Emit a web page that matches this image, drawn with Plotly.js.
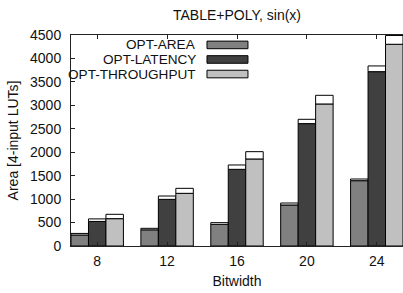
<!DOCTYPE html>
<html>
<head>
<meta charset="utf-8">
<script src="https://cdn.plot.ly/plotly-3.0.1.min.js"></script>
<style>
html,body{margin:0;padding:0;background:#fff;}
#chart{width:403px;height:293px;}
</style>
</head>
<body>
<div id="chart"></div>
<script>
var bitwidth = [8, 12, 16, 20, 24];
var seriesNames = ["OPT-AREA", "OPT-LATENCY", "OPT-THROUGHPUT"];
var seriesColors = ["#808080", "#404040", "#c0c0c0"];
var areaBase = [235, 345, 462, 875, 1393];
var areaTotal = [268, 377, 498, 917, 1429];
var latencyBase = [524, 995, 1635, 2610, 3718];
var latencyTotal = [578, 1066, 1728, 2702, 3840];
var throughputBase = [583, 1123, 1856, 3029, 4302];
var throughputTotal = [676, 1230, 2012, 3214, 4490];
var yTicks = [0, 500, 1000, 1500, 2000, 2500, 3000, 3500, 4000, 4500];

var bases = [areaBase, latencyBase, throughputBase];
var totals = [areaTotal, latencyTotal, throughputTotal];
var FONT = "Liberation Sans, Arial, sans-serif";
var traces = [];
for (var s = 0; s < 3; s++) {
  traces.push({
    type: "bar", x: bitwidth, y: bases[s], name: seriesNames[s],
    offsetgroup: String(s + 1),
    marker: {color: seriesColors[s], line: {color: "#000", width: 1}},
    showlegend: false, hoverinfo: "skip"
  });
  var cap = totals[s].map(function (t, i) { return t - bases[s][i]; });
  traces.push({
    type: "bar", x: bitwidth, y: cap, base: bases[s],
    offsetgroup: String(s + 1),
    marker: {color: "#ffffff", line: {color: "#000", width: 1}},
    showlegend: false, hoverinfo: "skip"
  });
}

// custom gnuplot-style legend (text then swatch)
var legY = [0.953, 0.884, 0.815];
var annotations = [];
var shapes = [];
for (var k = 0; k < 3; k++) {
  annotations.push({
    xref: "paper", yref: "paper", x: 0.3795, y: legY[k],
    xanchor: "right", yanchor: "middle", showarrow: false, borderpad: 0,
    text: seriesNames[k], font: {family: FONT, size: 13.6, color: "#111"}
  });
  shapes.push({
    type: "rect", xref: "paper", yref: "paper",
    x0: 0.4096, x1: 0.533, y0: legY[k] - 0.018, y1: legY[k] + 0.018,
    fillcolor: seriesColors[k], line: {color: "#000", width: 1}
  });
}

var layout = {
  width: 403, height: 293,
  margin: {l: 71, r: 0, t: 35, b: 47, pad: 0},
  paper_bgcolor: "#fff", plot_bgcolor: "#fff",
  font: {family: FONT, size: 14, color: "#111"},
  barmode: "group", bargap: 0.25, bargroupgap: 0,
  title: {text: "TABLE+POLY, sin(x)", x: 0.5, xref: "paper", xanchor: "center",
          y: 1 - 15 / 293, yref: "container", yanchor: "middle",
          font: {family: FONT, size: 14, color: "#111"}},
  xaxis: {
    range: [6.5, 25.5], tickvals: bitwidth, ticktext: bitwidth.map(String),
    ticks: "inside", ticklen: 4, tickcolor: "#222",
    showline: true, linecolor: "#222", linewidth: 1, mirror: "ticks",
    showgrid: false, zeroline: false, ticklabelstandoff: 2,
    title: {text: "Bitwidth", standoff: 8, font: {family: FONT, size: 14, color: "#111"}}
  },
  yaxis: {
    range: [0, 4500], tickvals: yTicks, ticktext: yTicks.map(String),
    ticks: "inside", ticklen: 4, tickcolor: "#222",
    showline: true, linecolor: "#222", linewidth: 1, mirror: false,
    showgrid: false, zeroline: false, ticklabelstandoff: 6,
    title: {text: "Area [4-input LUTs]", standoff: 8, font: {family: FONT, size: 14, color: "#111"}}
  },
  annotations: annotations,
  shapes: shapes
};

Plotly.newPlot("chart", traces, layout, {displayModeBar: false, staticPlot: true});
</script>
</body>
</html>
